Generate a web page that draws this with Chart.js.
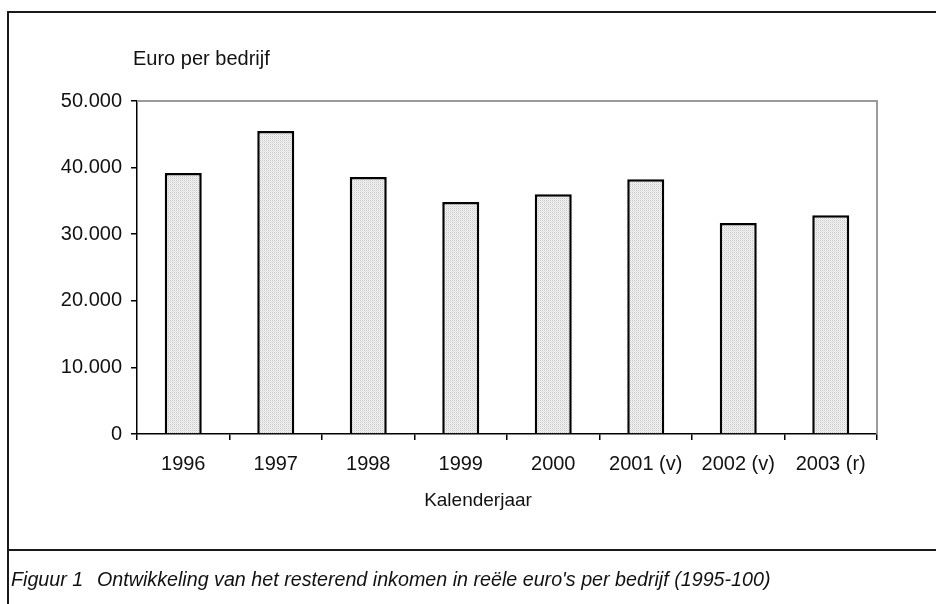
<!DOCTYPE html>
<html>
<head>
<meta charset="utf-8">
<script src="https://cdn.jsdelivr.net/npm/chart.js@4/dist/chart.umd.min.js"></script>
<style>
  html, body { margin:0; padding:0; background:#fff; }
  #wrap { position:relative; width:936px; height:604px; overflow:hidden; background:#fff; }
  #c { position:absolute; left:0; top:0; }
  .line { position:absolute; background:#1a1a1a; }
  .txt { position:absolute; font-family:'Liberation Sans',Arial,sans-serif; color:#111; white-space:nowrap; }
  .fig { display:inline-block; width:86px; }
</style>
</head>
<body>
<div id="wrap">
  <canvas id="c" width="936" height="604"></canvas>
  <div class="line" style="left:8px; top:11px; width:928px; height:2px;"></div>
  <div class="line" style="left:7px; top:11px; width:2px; height:593px;"></div>
  <div class="line" style="left:8px; top:549px; width:928px; height:2px;"></div>
  <div class="txt" id="ytitle" style="left:133px; top:47px; font-size:20px;">Euro per bedrijf</div>
  <div class="txt" id="xtitle" style="left:378px; width:200px; text-align:center; top:489px; font-size:19px;"></div>
  <div class="txt" id="caption" style="left:11px; top:568px; font-size:19.7px; font-style:italic;"><span class="fig">Figuur 1</span>Ontwikkeling van het resterend inkomen in reële euro's per bedrijf (1995-100)</div>
</div>
<script>
const categories = ['1996', '1997', '1998', '1999', '2000', '2001 (v)', '2002 (v)', '2003 (r)'];
const incomeValues = [39200, 45500, 38600, 34850, 36000, 38250, 31700, 32850];
const yTickValues = [0, 10000, 20000, 30000, 40000, 50000];
const xAxisTitle = 'Kalenderjaar';

document.getElementById('xtitle').textContent = xAxisTitle;

const FONT = "'Liberation Sans',Arial,sans-serif";

function fmt(v) {
  return String(v).replace(/\B(?=(\d{3})+(?!\d))/g, '.');
}

function makePattern() {
  const p = document.createElement('canvas');
  p.width = 2; p.height = 2;
  const g = p.getContext('2d');
  g.fillStyle = '#f3f3f3';
  g.fillRect(0, 0, 2, 2);
  g.fillStyle = '#c9c9c9';
  g.fillRect(0, 0, 1, 1);
  g.fillStyle = '#e2e2e2';
  g.fillRect(1, 1, 1, 1);
  return document.getElementById('c').getContext('2d').createPattern(p, 'repeat');
}

const plotBorder = {
  id: 'plotBorder',
  afterDraw(chart) {
    const { ctx, chartArea: a } = chart;
    ctx.save();
    ctx.strokeStyle = '#9a9a9a';
    ctx.lineWidth = 2;
    ctx.beginPath();
    ctx.moveTo(a.left, a.top);
    ctx.lineTo(a.right, a.top);
    ctx.lineTo(a.right, a.bottom);
    ctx.stroke();
    ctx.restore();
  }
};

new Chart(document.getElementById('c'), {
  type: 'bar',
  data: {
    labels: categories,
    datasets: [{
      data: incomeValues,
      backgroundColor: makePattern(),
      borderColor: '#000',
      borderWidth: 2.5,
      borderSkipped: 'bottom',
      barPercentage: 0.4,
      categoryPercentage: 1.0
    }]
  },
  options: {
    responsive: false,
    devicePixelRatio: 1,
    animation: false,
    layout: { padding: { left: 0, top: 101, right: 59, bottom: 0 } },
    plugins: { legend: { display: false }, tooltip: { enabled: false }, title: { display: false } },
    scales: {
      x: {
        afterFit(s) { s.height = 170; },
        grid: { offset: true, drawOnChartArea: false, drawTicks: true, tickLength: 6, color: '#000', lineWidth: 1.5 },
        border: { color: '#000', width: 1.5 },
        ticks: { color: '#111', font: { family: FONT, size: 20 }, padding: 12, maxRotation: 0, autoSkip: false },
        title: { display: false }
      },
      y: {
        min: 0, max: 50000,
        afterFit(s) { s.width = 137; },
        afterBuildTicks(s) { s.ticks = yTickValues.map(v => ({ value: v })); },
        grid: { drawOnChartArea: false, drawTicks: true, tickLength: 6, color: '#000', lineWidth: 1.5 },
        border: { color: '#000', width: 1.5 },
        ticks: { color: '#111', font: { family: FONT, size: 20 }, padding: 9, callback: v => fmt(v) }
      }
    }
  },
  plugins: [plotBorder]
});
</script>
</body>
</html>
